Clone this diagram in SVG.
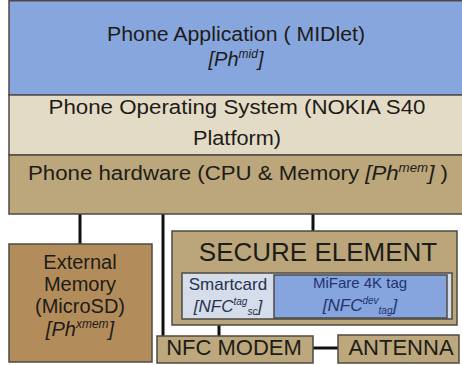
<svg xmlns="http://www.w3.org/2000/svg" width="462" height="365" viewBox="0 0 462 365">
<style>
  .box { stroke: #4d4a44; stroke-width: 1.5; }
  .t { font-family: "Liberation Sans", Arial, sans-serif; fill: #1e1c18; text-anchor: middle; }
  .it { font-style: italic; }
  .blue { fill: #1f3470; }
  .conn { stroke: #111; stroke-width: 3; fill: none; }
</style>
<rect width="462" height="365" fill="#ffffff"/>
<g id="connectors">
  <line class="conn" x1="80" y1="214" x2="80" y2="244"/>
  <line class="conn" x1="163" y1="214" x2="163" y2="336"/>
  <line class="conn" x1="313" y1="214" x2="313" y2="231"/>
  <line class="conn" x1="219" y1="325" x2="219" y2="336"/>
  <line class="conn" x1="313" y1="348" x2="338" y2="348"/>
</g>
<g id="phone-application">
  <rect class="box" x="9" y="0.75" width="460" height="94.5" fill="#87a6dd"/>
  <text class="t" x="236" y="41" font-size="20" textLength="258" lengthAdjust="spacingAndGlyphs">Phone Application ( MIDlet)</text>
  <text class="t it" x="236" y="66" font-size="20">[Ph<tspan font-size="12" dy="-8">mid</tspan><tspan dy="8">]</tspan></text>
</g>
<g id="phone-os">
  <rect class="box" x="9" y="95" width="460" height="60" fill="#e4dbc6"/>
  <text class="t" x="237" y="114" font-size="20" textLength="377" lengthAdjust="spacingAndGlyphs">Phone Operating System (NOKIA S40</text>
  <text class="t" x="237" y="145" font-size="20" textLength="88" lengthAdjust="spacingAndGlyphs">Platform)</text>
</g>
<g id="phone-hardware">
  <rect class="box" x="9" y="155" width="460" height="59" fill="#bba77b"/>
  <text class="t" x="238" y="180" font-size="20" textLength="420" lengthAdjust="spacingAndGlyphs">Phone hardware (CPU &amp; Memory <tspan class="it">[Ph<tspan font-size="12" dy="-8">mem</tspan><tspan dy="8">]</tspan></tspan> )</text>
</g>
<g id="external-memory">
  <rect class="box" x="9" y="244" width="143" height="118" fill="#b38c5b"/>
  <text class="t" x="80" y="269" font-size="20">External</text>
  <text class="t" x="80" y="291" font-size="20">Memory</text>
  <text class="t" x="80" y="313" font-size="20">(MicroSD)</text>
  <text class="t it" x="80" y="336" font-size="20">[Ph<tspan font-size="12" dy="-8">xmem</tspan><tspan dy="8">]</tspan></text>
</g>
<g id="secure-element">
  <rect class="box" x="172" y="231" width="285" height="94" fill="#bba67b"/>
  <text class="t" x="318" y="261" font-size="26">SECURE ELEMENT</text>
</g>
<g id="smartcard">
  <rect class="box" x="182" y="273" width="270" height="46" fill="#d5dcea" stroke-width="1"/>
  <text class="t" x="228" y="290" font-size="17" fill="#27324e" style="fill:#27324e">Smartcard</text>
  <text class="t it" x="228" y="312" font-size="17" style="fill:#27324e">[NFC<tspan font-size="10" dy="-7">tag</tspan><tspan font-size="10" dy="10">sc</tspan><tspan dy="-3">]</tspan></text>
</g>
<g id="mifare-tag">
  <rect class="box" x="274" y="275" width="173" height="43" fill="#86a4dd" stroke-width="1"/>
  <text class="t blue" x="360" y="288" font-size="15">MiFare 4K tag</text>
  <text class="t it blue" x="360" y="311" font-size="17">[NFC<tspan font-size="10" dy="-7">dev</tspan><tspan font-size="10" dy="10">tag</tspan><tspan dy="-3">]</tspan></text>
</g>
<g id="nfc-modem">
  <rect class="box" x="157" y="336" width="156" height="27" fill="#bca87c"/>
  <text class="t" x="234" y="355" font-size="22">NFC MODEM</text>
</g>
<g id="antenna">
  <rect class="box" x="338" y="335" width="121" height="28" fill="#bca87c"/>
  <text class="t" x="401" y="355" font-size="22">ANTENNA</text>
</g>
</svg>
